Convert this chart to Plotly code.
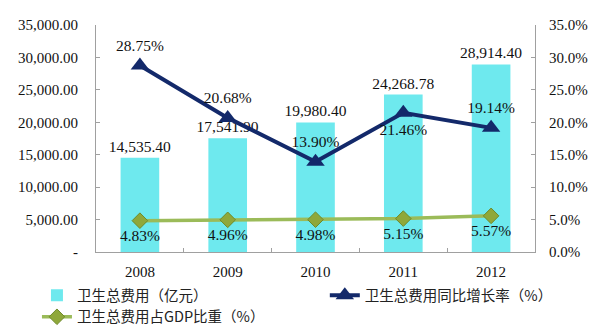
import plotly.graph_objects as go

years = ["2008", "2009", "2010", "2011", "2012"]
total_exp = [14535.40, 17541.90, 19980.40, 24268.78, 28914.40]
growth = [28.75, 20.68, 13.90, 21.46, 19.14]
gdp_share = [4.83, 4.96, 4.98, 5.15, 5.57]

left_ticks = [0, 5000, 10000, 15000, 20000, 25000, 30000, 35000]
left_ticktext = ["-"] + [f"{v:,.2f}" for v in left_ticks[1:]]
right_ticks = [0, 5, 10, 15, 20, 25, 30, 35]
right_ticktext = [f"{v:.1f}%" for v in right_ticks]

growth_pos = ["top center", "top center", "top center", "bottom center", "top center"]

serif = "Liberation Serif"
cjk = "Noto Sans CJK SC"

fig = go.Figure()
fig.add_trace(go.Bar(
    x=years, y=total_exp, name="卫生总费用（亿元）",
    marker=dict(color="#6EE9EE", line=dict(width=0)),
    text=[f"{v:,.2f}" for v in total_exp], textposition="outside",
    constraintext="none",
    textfont=dict(family=serif, size=15.5, color="#111"),
    cliponaxis=False, legend="legend",
))
fig.add_trace(go.Scatter(
    x=years, y=growth, name="卫生总费用同比增长率（%）", yaxis="y2",
    mode="lines+markers+text",
    line=dict(color="#13296A", width=4),
    marker=dict(symbol="triangle-up", size=16, color="#13296A"),
    text=[f"{v:.2f}%" for v in growth], textposition=growth_pos,
    textfont=dict(family=serif, size=15.5, color="#111"),
    cliponaxis=False, legend="legend3",
))
fig.add_trace(go.Scatter(
    x=years, y=gdp_share, name="卫生总费用占GDP比重（%）", yaxis="y2",
    mode="lines+markers+text",
    line=dict(color="#9BBB59", width=3.5),
    marker=dict(symbol="diamond", size=12, color="#8FA83A", line=dict(color="#6E8A2A", width=1)),
    text=[f"{v:.2f}%" for v in gdp_share], textposition="bottom center",
    textfont=dict(family=serif, size=15.5, color="#111"),
    cliponaxis=False, legend="legend2",
))

legend_font = dict(family=cjk, size=14.5, color="#222")
common = dict(orientation="h", xref="container", yref="container",
              xanchor="left", yanchor="middle", font=legend_font,
              itemwidth=30, bgcolor="rgba(0,0,0,0)")
axis_common = dict(showline=True, linecolor="#A0A0A0", linewidth=1,
                   ticks="inside", ticklen=4, tickcolor="#A0A0A0",
                   tickfont=dict(family=serif, size=15, color="#111"),
                   showgrid=False)
fig.update_layout(
    width=596, height=328,
    margin=dict(l=96, r=61, t=25, b=76, autoexpand=False),
    paper_bgcolor="white", plot_bgcolor="white",
    bargap=0.56,
    showlegend=True,
    legend=dict(x=0.062, y=0.1, **common),
    legend3=dict(x=0.545, y=0.1, **common),
    legend2=dict(x=0.062, y=0.034, **common),
    xaxis=dict(tickson="boundaries", ticklabelstandoff=6, fixedrange=True, **axis_common),
    yaxis=dict(range=[0, 35000], tickvals=left_ticks, ticktext=left_ticktext,
               zeroline=False, ticklabelstandoff=14, **axis_common),
    yaxis2=dict(range=[0, 35], tickvals=right_ticks, ticktext=right_ticktext,
                overlaying="y", side="right", zeroline=False,
                ticklabelstandoff=10, **axis_common),
)

fig.write_html("out.html")
